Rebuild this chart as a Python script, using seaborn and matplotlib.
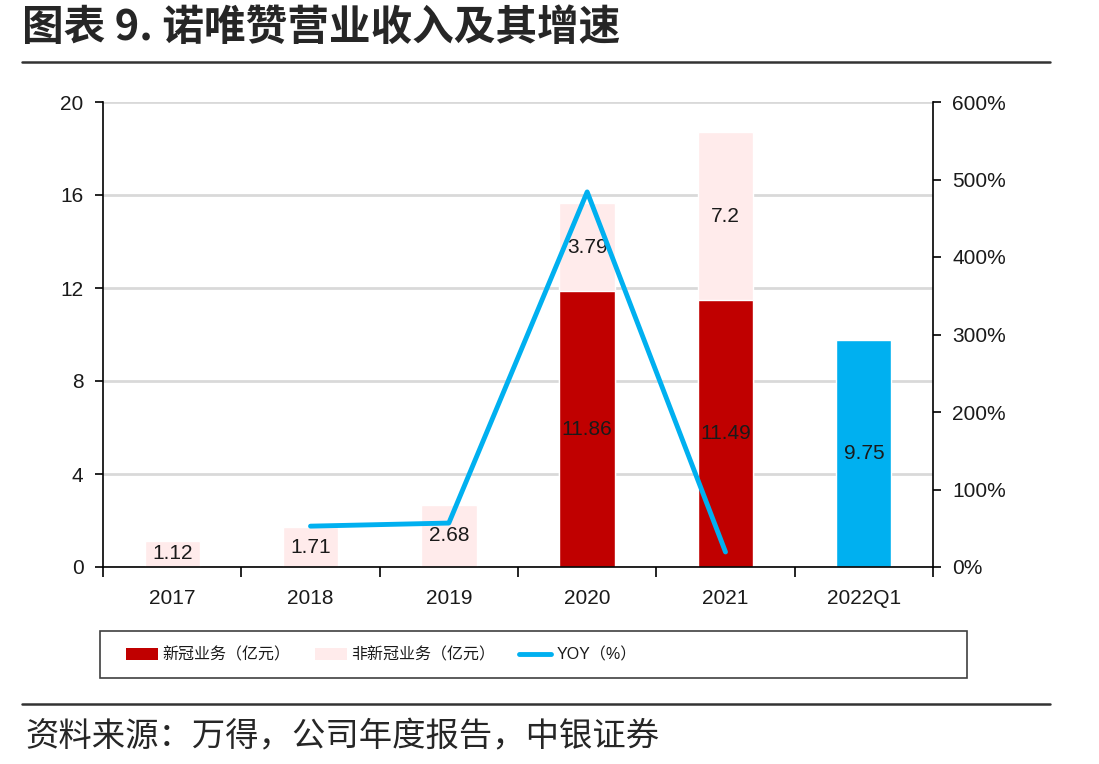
import matplotlib
matplotlib.use("Agg")
from matplotlib import pyplot as plt
from matplotlib.patches import Patch, Rectangle
from matplotlib.lines import Line2D
import seaborn as sns
import pandas as pd

# data
years = ['2017', '2018', '2019', '2020', '2021', '2022Q1']
covid = [0, 0, 0, 11.86, 11.49, 0]          # 新冠业务 (亿元)
non_covid = [1.12, 1.71, 2.68, 3.79, 7.2, 0]  # 非新冠业务 (亿元)
q1_total = [0, 0, 0, 0, 0, 9.75]
yoy_years = ['2018', '2019', '2020', '2021']
yoy = [52.7, 56.7, 484.0, 19.4]  # %

red = '#C00000'
pink = '#FFEBEB'
blue = '#00B0F0'

sns.set_theme(style="white")
plt.rcParams['font.family'] = ['Liberation Sans', 'Noto Sans CJK SC', 'DejaVu Sans']
plt.rcParams['axes.unicode_minus'] = False

df = pd.DataFrame({'year': years, 'covid': covid, 'non_covid': non_covid, 'q1': q1_total})
df['total'] = df['covid'] + df['non_covid'] + df['q1']

fig = plt.figure(figsize=(10.99, 7.64), dpi=100)
ax = fig.add_axes([103 / 1099, 1 - 567 / 764, 830 / 1099, 465 / 764])

sns.barplot(ax=ax, data=df, x='year', y='total', hue='year',
            palette=[pink] * 5 + [blue], width=0.4, legend=False, saturation=1)
sns.barplot(ax=ax, data=df, x='year', y='covid', color=red, width=0.4, saturation=1)

ax.set_ylim(0, 20)
ax.set_xlim(-0.5, 5.5)
ax.set_yticks([0, 4, 8, 12, 16, 20])
ax.set_xlabel('')
ax.set_ylabel('')
ax.yaxis.grid(True, color='#D9D9D9', linewidth=2)
ax.set_axisbelow(True)
for s in ['top', 'right']:
    ax.spines[s].set_visible(False)
for s in ['left', 'bottom']:
    ax.spines[s].set_color('#000000')
    ax.spines[s].set_linewidth(1.2)
ax.tick_params(axis='y', left=True, length=6, width=1.2, color='black',
               labelsize=15, labelcolor='#1a1a1a', pad=8)
ax.tick_params(axis='x', bottom=False, labelsize=15, labelcolor='#1a1a1a', pad=10)
ax.set_xticks([i + 0.5 for i in range(-1, 6)], minor=True)
ax.tick_params(axis='x', which='minor', bottom=True, length=7, width=1.2, color='black')

# data labels
for i, y in enumerate(years):
    if covid[i] > 0:
        ax.text(i, covid[i] / 2, f'{covid[i]:g}', ha='center', va='center', fontsize=15, color='#1a1a1a')
    if non_covid[i] > 0:
        ax.text(i, covid[i] + non_covid[i] / 2, f'{non_covid[i]:g}', ha='center', va='center',
                fontsize=15, color='#1a1a1a')
    if q1_total[i] > 0:
        ax.text(i, q1_total[i] / 2, f'{q1_total[i]:g}', ha='center', va='center', fontsize=15, color='#1a1a1a')

# YOY line on right axis
ax2 = ax.twinx()
yoy_x = [years.index(y) for y in yoy_years]
sns.lineplot(ax=ax2, x=yoy_x, y=yoy, color=blue, linewidth=3.5)
ax2.set_ylim(0, 600)
ax2.set_xlim(-0.5, 5.5)
ax2.set_yticks(range(0, 601, 100))
ax2.set_yticklabels([f'{v}%' for v in range(0, 601, 100)])
ax2.grid(False)
for s in ['top', 'left', 'bottom']:
    ax2.spines[s].set_visible(False)
ax2.spines['right'].set_color('#000000')
ax2.spines['right'].set_linewidth(1.2)
ax2.tick_params(axis='y', right=True, length=6, width=1.2, color='black',
                labelsize=15, labelcolor='#1a1a1a', pad=8)

# legend (frame drawn separately, items packed on the left)
fig.add_artist(Rectangle((100 / 1099, 1 - 678 / 764), 867 / 1099, 47 / 764,
                         transform=fig.transFigure, fill=False, edgecolor='#404040', linewidth=1.2))
handles = [Patch(facecolor=red, edgecolor='none'),
           Patch(facecolor=pink, edgecolor='none'),
           Line2D([0], [0], color=blue, linewidth=3.5)]
labels = ['新冠业务（亿元）', '非新冠业务（亿元）', 'YOY（%）']
leg = fig.legend(handles, labels, ncol=3, loc='center left',
                 bbox_to_anchor=(126 / 1099, 1 - 655 / 764),
                 frameon=False, fontsize=11.5, borderpad=0, borderaxespad=0,
                 handlelength=2.0, handleheight=0.8, handletextpad=0.3, columnspacing=1.5)
for t in leg.get_texts():
    t.set_color('#1a1a1a')

# title, rules and source
fig.text(22 / 1099, 1 - 28 / 764, '图表 9. 诺唯赞营业收入及其增速', fontsize=30, fontweight='bold',
         va='center', ha='left', family=['Noto Sans CJK SC', 'DejaVu Sans'])
fig.add_artist(Line2D([22 / 1099, 1050 / 1099], [1 - 62 / 764] * 2, color='#333333', linewidth=1.8))
fig.add_artist(Line2D([22 / 1099, 1050 / 1099], [1 - 704 / 764] * 2, color='#333333', linewidth=1.8))
fig.text(25 / 1099, 1 - 737 / 764, '资料来源：万得，公司年度报告，中银证券', fontsize=24,
         va='center', ha='left', family=['Noto Sans CJK SC', 'DejaVu Sans'])

fig.savefig('out.png', dpi=100)
